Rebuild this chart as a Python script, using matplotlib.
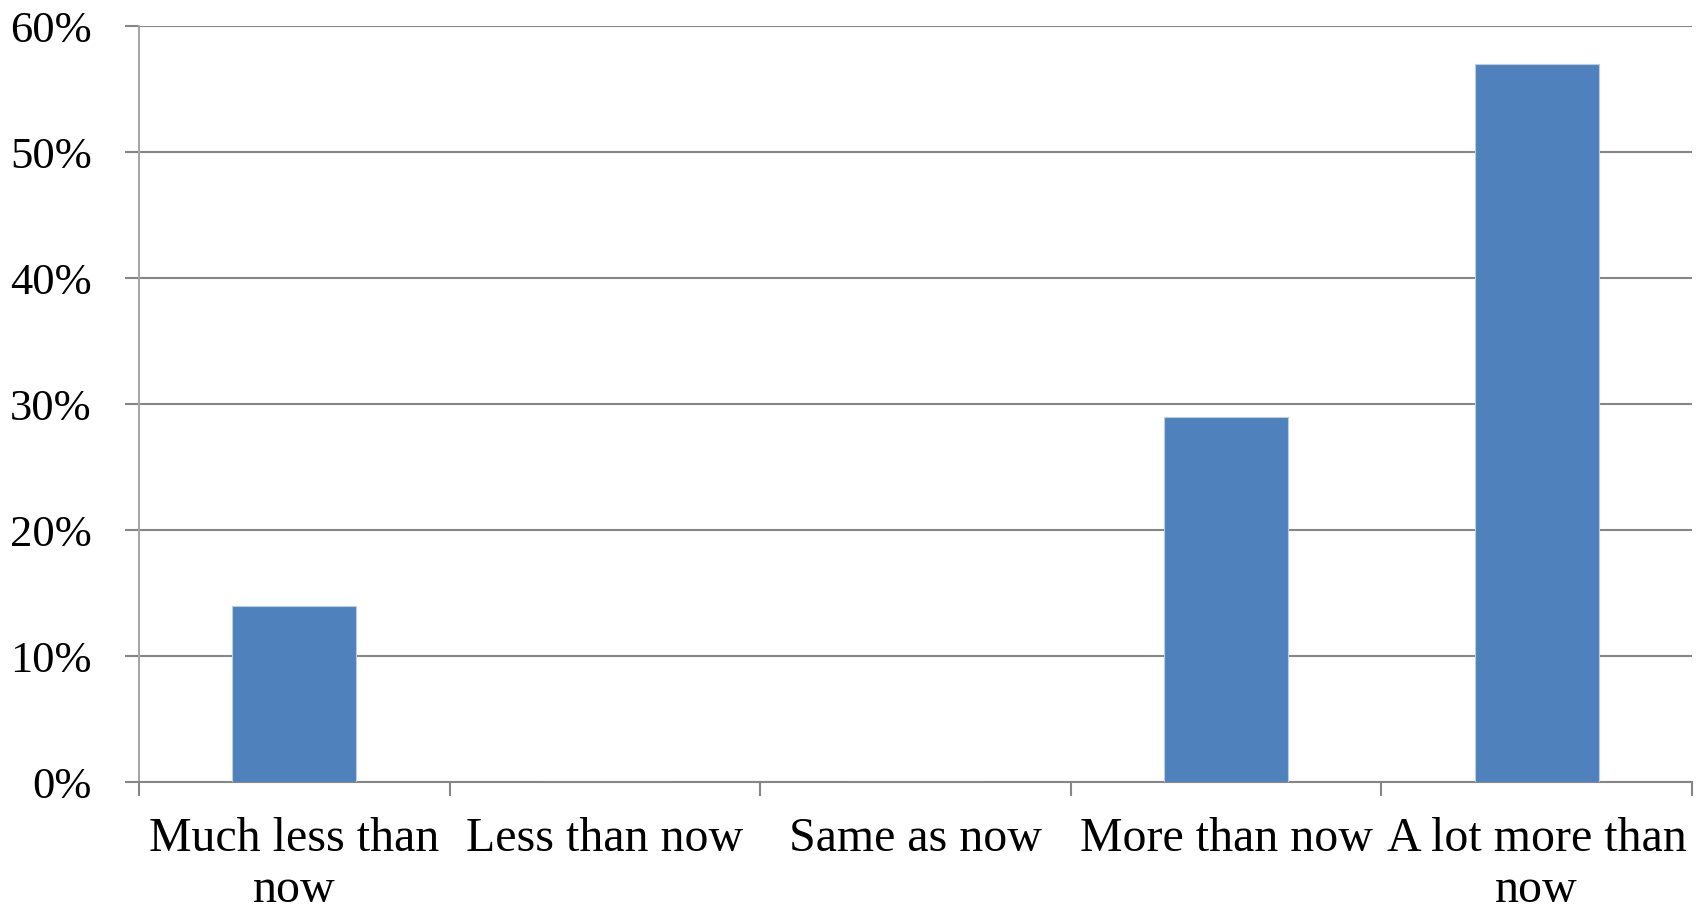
import matplotlib
matplotlib.use("Agg")
import matplotlib.pyplot as plt
from matplotlib.ticker import FuncFormatter

categories = ["Much less than\nnow", "Less than now", "Same as now", "More than now", "A lot more than\nnow"]
values = [14, 0, 0, 29, 57]
yticks = [0, 10, 20, 30, 40, 50, 60]

W, H = 1702, 913
fig = plt.figure(figsize=(W / 100, H / 100), dpi=100)
ax = fig.add_axes([139 / W, (H - 782) / H, (1692 - 139) / W, (782 - 26) / H])

plt.rcParams['font.family'] = ['Liberation Serif', 'DejaVu Serif']
grid_c = "#868686"

x = list(range(len(categories)))
ax.bar(x, values, width=0.4, color="#4F81BD", edgecolor="#B9CDE5", linewidth=0.8, zorder=3)

ax.set_xlim(-0.5, len(categories) - 0.5)
ax.set_ylim(0, 60)
ax.set_yticks(yticks)
ax.yaxis.set_major_formatter(FuncFormatter(lambda v, p: f"{int(v)}%"))
ax.yaxis.grid(True, color=grid_c, linewidth=1.5, zorder=1)
ax.set_axisbelow(True)

ax.set_xticks(x)
ax.set_xticklabels(categories, fontsize=34.5, family=['Liberation Serif'], linespacing=1.2)
ax.set_xticks([i - 0.5 for i in range(len(categories) + 1)], minor=True)
ax.tick_params(axis='x', which='major', length=0, pad=25)
ax.tick_params(axis='x', which='minor', length=10, width=1.5, color=grid_c, direction='out')
ax.tick_params(axis='y', length=10, width=1.5, color=grid_c, pad=24, labelsize=32)
for lab in ax.get_yticklabels():
    lab.set_family(['Liberation Serif'])

for s in ['top', 'right']:
    ax.spines[s].set_visible(False)
ax.spines['left'].set_color("#A6A6A6")
ax.spines['left'].set_linewidth(1.5)
ax.spines['bottom'].set_color(grid_c)
ax.spines['bottom'].set_linewidth(1.5)

fig.savefig("out.png", dpi=100, facecolor="white")
